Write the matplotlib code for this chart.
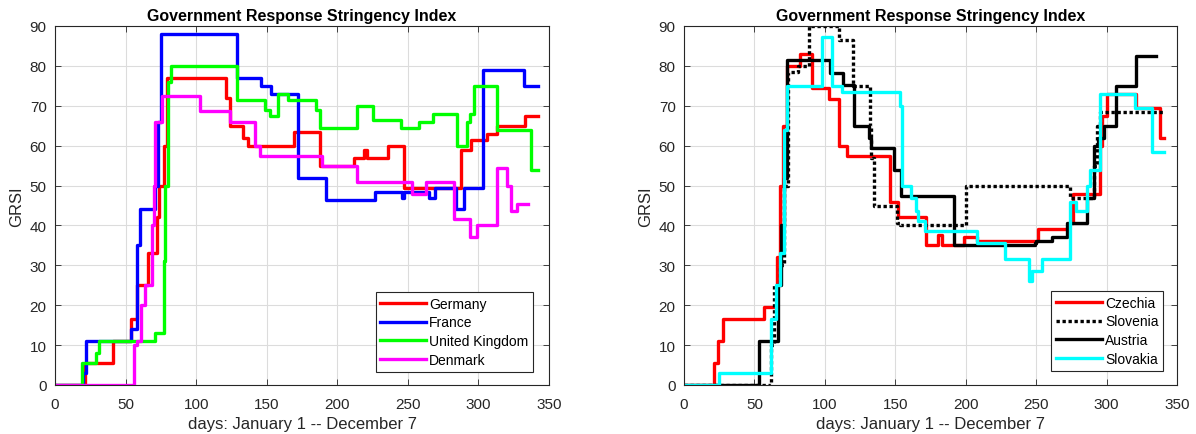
import matplotlib
matplotlib.use("Agg")
import matplotlib.pyplot as plt
import numpy as np

plt.rcParams['font.family'] = ['Liberation Sans', 'DejaVu Sans']

# ---- Left panel data (change points: day, value; drawn as steps) ----
germany_days = [0, 21, 41, 54, 58, 66, 72, 74, 77, 79, 121, 124, 133, 137, 169, 188, 212, 219, 221, 236, 247, 288, 295, 306, 313, 333, 342]
germany_vals = [0, 5.5, 11, 16.5, 25, 33, 42, 50, 60, 77, 72, 65, 62, 60, 63.5, 55, 57, 59, 57, 60, 49.5, 59, 61.5, 63, 65, 67.5, 67.5]

france_days = [0, 20, 22, 54, 58, 60, 71, 73, 75, 129, 146, 153, 172, 192, 227, 246, 247, 265, 269, 284, 290, 303, 332, 342]
france_vals = [0, 3, 11, 14, 35, 44, 50, 66, 88, 77, 75, 73, 52, 46.5, 48.3, 47, 48.5, 47, 49.5, 44, 49.5, 79, 75, 75]

uk_days = [0, 19, 29, 31, 71, 77, 78, 80, 82, 129, 149, 152, 158, 165, 185, 188, 214, 225, 245, 258, 268, 285, 292, 294, 297, 313, 337, 342]
uk_vals = [0, 5.5, 8, 11, 13, 31, 50, 76, 80, 71.5, 69, 67.5, 73, 71.5, 69, 64.5, 70, 66.4, 64.5, 66, 68, 60, 66, 68, 75, 64, 54, 54]

denmark_days = [0, 56, 58, 61, 64, 69, 70, 71, 76, 103, 124, 142, 145, 189, 214, 253, 263, 283, 294, 299, 313, 320, 323, 327, 335]
denmark_vals = [0, 10, 11, 20, 25, 40, 50, 66, 72.5, 68.7, 66, 60, 57.5, 55, 51, 48, 51, 41.5, 37, 40, 54.5, 50, 43.5, 45.5, 45.5]

# ---- Right panel data ----
czechia_days = [0, 21, 24, 28, 57, 66, 68, 70, 73, 82, 91, 103, 110, 116, 146, 152, 172, 180, 183, 199, 208, 251, 273, 276, 295, 297, 300, 321, 338, 341]
czechia_vals = [0, 5.5, 11, 16.5, 19.5, 32, 50, 65, 80, 83, 74.5, 71.7, 60, 57.5, 46, 42, 35, 37.5, 35, 37, 36, 39, 40.5, 48, 60, 67.5, 73, 69.5, 62, 62]

slovenia_days = [0, 62, 64, 68, 71, 74, 81, 89, 110, 120, 132, 133, 135, 137, 151, 153, 200, 274, 291, 293, 295, 341]
slovenia_vals = [0, 10, 25, 30, 50, 78.5, 80, 90, 86.5, 75, 65, 57, 45, 45, 40.5, 40, 50, 47, 55, 65, 68.5, 68.5]

austria_days = [0, 53, 67, 69, 71, 73, 104, 113, 121, 131, 133, 149, 154, 192, 249, 250, 261, 272, 286, 291, 294, 298, 307, 321, 335]
austria_vals = [0, 11, 25, 40, 52, 81.5, 78.3, 75.3, 65, 62, 59.5, 54, 47.3, 35, 35.5, 36, 37, 40.5, 47, 60, 62, 65, 75, 82.5, 82.5]

slovakia_days = [0, 25, 62, 65, 68, 71, 73, 98, 105, 112, 153, 155, 157, 161, 165, 166, 171, 208, 228, 245, 247, 254, 274, 278, 286, 288, 295, 320, 332, 341]
slovakia_vals = [0, 3, 16.5, 25, 33, 64, 75, 87.3, 75, 73.5, 70, 50, 50, 47, 43.5, 41, 38.5, 35.5, 31.5, 26, 28.5, 31.5, 46, 43.5, 50, 54, 73, 69.5, 58.5, 58.5]

title = "Government Response Stringency Index"
xlabel = "days: January 1 -- December 7"
ylabel = "GRSI"
xticks = [0, 50, 100, 150, 200, 250, 300, 350]
yticks = [0, 10, 20, 30, 40, 50, 60, 70, 80, 90]

fig = plt.figure(figsize=(11.96, 4.35), dpi=100)
ax1 = fig.add_axes([55/1196, 49/435, 494/1196, 359/435])
ax2 = fig.add_axes([684/1196, 49/435, 493/1196, 359/435])

LW = 2.4
ax1.plot(germany_days, germany_vals, drawstyle='steps-post', color='#ff0000', lw=LW, label='Germany')
ax1.plot(france_days, france_vals, drawstyle='steps-post', color='#0000ff', lw=LW, label='France')
ax1.plot(uk_days, uk_vals, drawstyle='steps-post', color='#00ff00', lw=LW, label='United Kingdom')
ax1.plot(denmark_days, denmark_vals, drawstyle='steps-post', color='#ff00ff', lw=LW, label='Denmark')

ax2.plot(czechia_days, czechia_vals, drawstyle='steps-post', color='#ff0000', lw=LW, label='Czechia')
ax2.plot(slovenia_days, slovenia_vals, drawstyle='steps-post', color='black', lw=LW, ls=(0, (1.0, 0.8)), label='Slovenia')
ax2.plot(austria_days, austria_vals, drawstyle='steps-post', color='black', lw=LW, label='Austria')
ax2.plot(slovakia_days, slovakia_vals, drawstyle='steps-post', color='#00ffff', lw=LW, label='Slovakia')

for ax, anchor in ((ax1, (0.968, 0.036)), (ax2, (0.972, 0.039))):
    ax.set_xlim(0, 350)
    ax.set_ylim(0, 90)
    ax.set_xticks(xticks)
    ax.set_yticks(yticks)
    ax.grid(True, color='#dcdcdc', lw=0.8)
    ax.set_axisbelow(True)
    ax.tick_params(direction='in', top=True, right=True, length=4, width=0.6,
                   labelsize=11, colors='#262626', pad=6)
    ax.tick_params(axis='x', pad=9)
    for s in ax.spines.values():
        s.set_color('#262626')
        s.set_linewidth(0.8)
    ax.set_title(title, fontsize=11.5, fontweight='bold', pad=4)
    ax.set_xlabel(xlabel, fontsize=12, color='#262626', labelpad=3)
    ax.set_ylabel(ylabel, fontsize=12, color='#262626', labelpad=4)
    leg = ax.legend(loc='lower right', bbox_to_anchor=anchor, borderaxespad=0,
                    fancybox=False, edgecolor='#262626', framealpha=1,
                    fontsize=10, handlelength=3.3, handletextpad=0.2,
                    labelspacing=0.35, borderpad=0.35)
    leg.get_frame().set_linewidth(0.8)

fig.savefig('out.png', dpi=100)
